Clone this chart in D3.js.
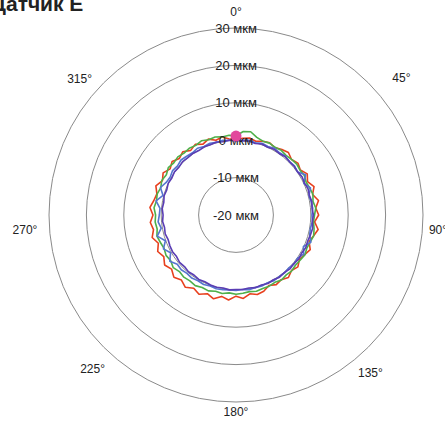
<!DOCTYPE html>
<html>
<head>
<meta charset="utf-8">
<script src="https://cdn.jsdelivr.net/npm/d3@7"></script>
<style>
  body { margin: 0; background: #fff; }
  svg { display: block; font-family: "Liberation Sans", Arial, sans-serif; }
</style>
</head>
<body>
<svg id="chart" width="445" height="425"></svg>
<script>
// values in мкм, one point every 5 degrees, starting at 0 (top), clockwise
const title = "Датчик Е";
const ringValues = [-20, -10, 0, 10, 20, 30];
const angleLabels = [0, 45, 90, 135, 180, 225, 270, 315];

const red = [0.2, 0.6, 0.9, 0.4, 1.0, 1.3, 0.8, 1.4, 1.8, 1.0, 1.6,
  1.0, 2.0, 1.1, 2.2, 1.2, 2.4, 1.4, 2.1, 1.1, 2.3, 1.5,
  0.8, 1.9, 1.2, 0.7, 1.6, 1.0, 1.8, 1.1, 1.5, 0.8, 1.7,
  2.0, 1.4, 2.4, 1.7, 2.8, 2.1, 3.2, 2.4, 3.4, 2.6, 3.6,
  2.7, 3.5, 2.5, 3.3, 2.3, 3.1, 2.1, 3.2, 2.4, 3.0, 2.2,
  3.1, 2.3, 1.9, 2.8, 1.7, 2.5, 1.5, 2.3, 1.4, 2.1, 1.1,
  1.8, 0.9, 1.6, 0.7, 1.2, 0.4];
const green = [1.2, 2.4, 2.6, 1.5, 1.0, 1.2, 0.9, 1.1, 0.8, 1.0, 1.2,
  0.9, 1.1, 0.7, 1.0, 1.3, 0.9, 1.4, 1.0, 0.8, 1.2, 1.5,
  1.1, 0.9, 1.3, 1.0, 0.8, 1.1, 0.9, 1.2, 0.8, 1.0, 0.9,
  1.1, 0.8, 1.0, 1.2, 0.9, 1.3, 1.1, 1.6, 1.4, 1.8, 1.5,
  1.7, 1.4, 1.9, 1.3, 1.6, 1.2, 1.5, 1.9, 1.4, 1.7, 1.5,
  2.0, 1.6, 1.8, 1.4, 1.9, 1.5, 2.1, 1.7, 2.0, 1.6, 1.8,
  1.5, 1.9, 1.4, 1.6, 1.2, 1.4];
const blue = [-0.2, 0.1, 0.3, 0.0, 0.4, 0.2, 0.6, 0.3, 0.5, 0.2, 0.4,
  0.1, 1.5, 0.0, 1.2, 0.2, 0.4, 0.6, 0.3, 0.5, 0.2, 0.4,
  1.3, -0.1, 0.9, 0.1, 0.3, 0.0, 0.2, 0.1, 0.3, 0.0, 0.2,
  0.1, 0.3, 0.0, 0.2, 0.1, 0.3, 0.4, 0.2, 0.5, 0.3, 0.6,
  0.4, 0.7, 0.5, 1.6, 0.2, 1.4, 0.1, 1.8, 0.3, 0.9, 0.5,
  0.4, 1.7, 0.2, 1.5, 0.6, 0.3, 0.7, 0.4, 0.8, 0.5, 0.3,
  0.6, 0.2, 0.4, 0.1, 0.3, 0.0];
const purple = [0.0, -0.1, 0.1, -0.2, 0.2, 0.0, 0.3, 0.1, 0.4, 0.2, 0.3,
  0.1, 0.4, 0.2, 0.5, 0.3, 0.6, 0.4, 0.7, 0.5, 0.8, 0.6,
  0.4, 0.6, 0.3, 0.5, 0.2, 0.4, 0.1, 0.3, 0.0, 0.2, -0.1,
  0.1, -0.2, 0.0, -0.1, 0.1, -0.2, 0.0, -0.1, -0.3, -0.1, -0.4,
  -0.2, -0.5, -0.3, -0.6, -0.4, -0.5, -0.7, -0.4, -0.6, -0.3, -0.5,
  -0.2, -0.4, -0.1, -0.3, 0.0, -0.2, 0.1, -0.1, 0.2, 0.0, 0.1,
  -0.1, 0.1, 0.0, 0.2, -0.1, 0.1];
const marker = { angle: 0, value: 1.1 };

const series = [
  { name: "red", values: red, color: "#e8401e" },
  { name: "green", values: green, color: "#4fb04a" },
  { name: "blue", values: blue, color: "#5675cf" },
  { name: "purple", values: purple, color: "#5a3db4" }
];

const svg = d3.select("#chart");
const cx = 236, cy = 215;

const r = d3.scaleLinear().domain([-20, 30]).range([0, 187]);
const a = d3.scaleLinear().domain([0, 360]).range([0, 2 * Math.PI]);

const g = svg.append("g").attr("transform", `translate(${cx},${cy})`);

// rings
g.selectAll(".ring")
  .data(ringValues.filter(d => d > -20))
  .enter()
  .append("circle")
  .attr("class", "ring")
  .attr("r", d => r(d))
  .attr("fill", "none")
  .attr("stroke", "#8a8a8a")
  .attr("stroke-width", 1);

// data lines
const line = d3.lineRadial()
  .angle((d, i) => a(i * 5))
  .radius(d => r(d))
  .curve(d3.curveLinearClosed);

g.selectAll(".series")
  .data(series)
  .enter()
  .append("path")
  .attr("class", "series")
  .attr("d", d => line(d.values))
  .attr("fill", "none")
  .attr("stroke", d => d.color)
  .attr("stroke-width", 1.6)
  .attr("stroke-linejoin", "round");

// ring labels on the vertical axis
g.selectAll(".ringLabel")
  .data(ringValues)
  .enter()
  .append("text")
  .attr("class", "ringLabel")
  .attr("x", 0)
  .attr("y", d => -r(d))
  .attr("dy", "0.35em")
  .attr("text-anchor", "middle")
  .attr("font-size", 13)
  .attr("fill", "#222")
  .text(d => d + " мкм");

// marker
g.append("circle")
  .attr("cx", r(marker.value) * Math.sin(a(marker.angle)))
  .attr("cy", -r(marker.value) * Math.cos(a(marker.angle)))
  .attr("r", 5.5)
  .attr("fill", "#e2489c");

// angle labels, nudged like the original
const nudge = {0: [0, -3], 45: [24, 4], 90: [2, 15], 135: [-7, 16],
  180: [0, -3], 225: [-2, 12], 270: [-11, 15], 315: [-15, 5]};
g.selectAll(".angleLabel")
  .data(angleLabels)
  .enter()
  .append("text")
  .attr("class", "angleLabel")
  .attr("x", d => 200 * Math.sin(a(d)) + nudge[d][0])
  .attr("y", d => -200 * Math.cos(a(d)) + nudge[d][1])
  .attr("dy", "0.35em")
  .attr("text-anchor", "middle")
  .attr("font-size", 12)
  .attr("fill", "#222")
  .text(d => d + "°");

svg.append("text")
  .attr("x", -9)
  .attr("y", 11)
  .attr("font-size", 21)
  .attr("font-weight", "bold")
  .attr("fill", "#222")
  .text(title);
</script>
</body>
</html>
